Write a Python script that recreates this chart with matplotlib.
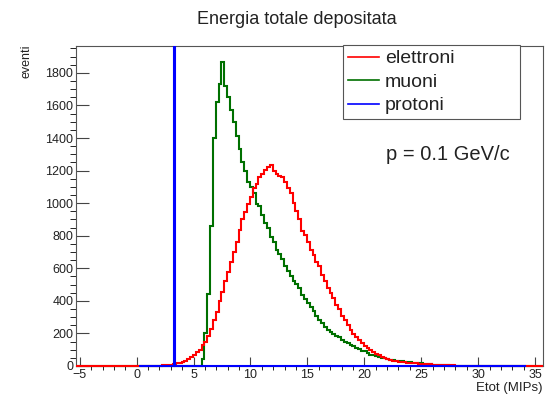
import numpy as np
import matplotlib.pyplot as plt
from matplotlib.ticker import MultipleLocator
from matplotlib.lines import Line2D
from matplotlib.patches import Rectangle

plt.rcParams['font.family'] = ['Liberation Sans', 'DejaVu Sans']

# common binning of the histograms (Etot in MIPs)
bin_w = 0.25
hist_lo = -5.3
n_bins = 164

# electrons: counts per bin, first non-empty bin starts at ele_first
ele_first = 0.95
ele_counts = [1, 2, 2, 3, 3, 4, 5, 6, 8, 12, 16, 20, 26, 33, 44, 58, 66, 84, 100, 126,
              150, 186, 228, 280, 334, 398, 455, 520, 580, 640, 700, 762, 834, 905, 948, 995,
              1040, 1092, 1120, 1158, 1180, 1205, 1222, 1236, 1200, 1178, 1165, 1158, 1130, 1090,
              1062, 1000, 950, 900, 830, 805, 760, 712, 680, 640, 612, 560, 520, 476, 446, 418,
              375, 348, 310, 280, 250, 222, 198, 176, 160, 140, 124, 110, 98, 86, 76, 68, 58,
              50, 44, 38, 33, 30, 27, 24, 22, 20, 19, 17, 16, 15, 13, 12, 11, 10, 9, 8, 7, 6,
              6, 5, 4, 4, 3, 3, 3, 2, 2, 2, 1, 1, 1, 1, 1]

# muons
mu_first = 5.7
mu_counts = [40, 200, 440, 860, 1400, 1620, 1730, 1865, 1720, 1650, 1575, 1500, 1410, 1335,
             1250, 1195, 1130, 1100, 1060, 995, 985, 930, 880, 845, 795, 760, 712, 690, 655,
             615, 585, 550, 520, 505, 480, 435, 410, 385, 360, 335, 305, 285, 262, 240, 222,
             206, 198, 185, 176, 160, 148, 140, 132, 122, 112, 104, 95, 90, 80, 70, 65, 60, 56,
             52, 47, 43, 39, 36, 33, 30, 28, 27, 25, 23, 21, 20, 18, 16, 14, 12, 10, 9, 8, 7,
             6, 5, 4, 3, 3, 2, 2, 1, 1]

# protons: all events in a single (narrow) bin
prot_lo = 0.2
prot_hi = 34.2
prot_bin_w = 0.1
prot_peak = 3.3
prot_count = 10000

edges = hist_lo + bin_w * np.arange(n_bins + 1)

def fill(first, counts):
    h = np.zeros(n_bins)
    i0 = int(round((first - hist_lo) / bin_w))
    h[i0:i0 + len(counts)] = counts
    return h

ele = fill(ele_first, ele_counts)
mu = fill(mu_first, mu_counts)

n_prot = int(round((prot_hi - prot_lo) / prot_bin_w))
prot_edges = prot_lo + prot_bin_w * np.arange(n_prot + 1)
prot = np.zeros(n_prot)
prot[int(round((prot_peak - prot_lo) / prot_bin_w))] = prot_count

red = '#ff0000'
green = '#007000'
blue = '#0000ff'

fig = plt.figure(figsize=(5.46, 3.97), dpi=100)
ax = fig.add_axes([76/546, 31/397, 467/546, 320/397])

# clip slightly below the frame so the lines lying on y=0 stay fully visible
for vals, e, c in [(mu, edges, green), (ele, edges, red), (prot, prot_edges, blue)]:
    st = ax.stairs(vals, e, color=c, lw=1.5, zorder=3)
    st.set_clip_path(Rectangle((0, -0.02), 1, 1.02, transform=ax.transAxes))

ax.set_xlim(-5.33, 35.7)
ax.set_ylim(0, 1965)

ax.xaxis.set_major_locator(MultipleLocator(5))
ax.xaxis.set_minor_locator(MultipleLocator(1))
ax.yaxis.set_major_locator(MultipleLocator(200))
ax.yaxis.set_minor_locator(MultipleLocator(50))
ax.tick_params(direction='in', colors='#444444', labelcolor='#222222', labelsize=9,
               top=False, right=False)
ax.tick_params(axis='x', which='major', length=6.5, pad=2)
ax.tick_params(axis='x', which='minor', length=3.2)
ax.tick_params(axis='y', which='major', length=9.4, pad=2)
ax.tick_params(axis='y', which='minor', length=4.3)
for s in ax.spines.values():
    s.set_color('#555555')
    s.set_linewidth(0.8)

fig.text(296.5/546, 1 - 20/397, 'Energia totale depositata', ha='center', va='center',
         fontsize=13, color='#222222')
fig.text(27/546, 1 - 45/397, 'eventi', rotation=90, ha='center', va='top',
         fontsize=9, color='#222222')
fig.text(543/546, 1 - 388/397, 'Etot (MIPs)', ha='right', va='center',
         fontsize=9.5, color='#222222')
fig.text(386/546, 1 - 160/397, 'p = 0.1 GeV/c', ha='left', va='baseline',
         fontsize=14.5, color='#222222')

handles = [Line2D([], [], color=red, lw=1.2),
           Line2D([], [], color=green, lw=1.2),
           Line2D([], [], color=blue, lw=1.2)]
leg = ax.legend(handles, ['elettroni', 'muoni', 'protoni'], loc='upper left',
                bbox_to_anchor=(343/546, 1 - 124/397, 177/546, 79/397),
                bbox_transform=fig.transFigure, mode='expand', borderaxespad=0,
                fontsize=14, fancybox=False, framealpha=1, edgecolor='#555555',
                borderpad=0.25, labelspacing=0.3, handlelength=1.6, handletextpad=0.3)
leg.get_frame().set_linewidth(0.8)
leg.set_zorder(5)
for t in leg.get_texts():
    t.set_color('#222222')

fig.savefig('out.png', dpi=100)
